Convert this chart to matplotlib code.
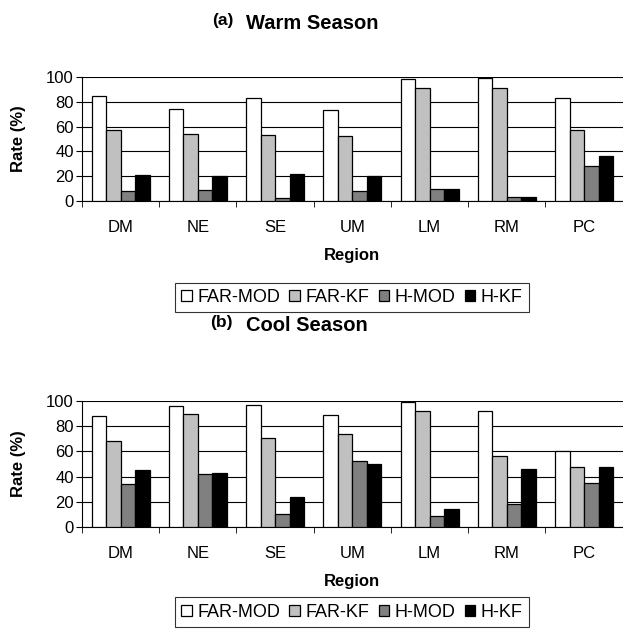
import numpy as np
import matplotlib
matplotlib.use("Agg")
import matplotlib.pyplot as plt

plt.rcParams['font.family'] = ['Liberation Sans', 'DejaVu Sans']

regions = ['DM', 'NE', 'SE', 'UM', 'LM', 'RM', 'PC']
series = ['FAR-MOD', 'FAR-KF', 'H-MOD', 'H-KF']
colors = ['white', '#c0c0c0', '#808080', 'black']

# warm season rates (%)
warm_far_mod = [85, 74, 83, 73, 98, 99, 83]
warm_far_kf = [57, 54, 53, 52, 91, 91, 57]
warm_h_mod = [8, 9, 2, 8, 10, 3, 28]
warm_h_kf = [21, 20, 22, 20, 10, 3, 36]

# cool season rates (%)
cool_far_mod = [88, 96, 97, 89, 99, 92, 60]
cool_far_kf = [68, 90, 71, 74, 92, 56, 48]
cool_h_mod = [34, 42, 10, 52, 9, 18, 35]
cool_h_kf = [45, 43, 24, 50, 14, 46, 48]

fig = plt.figure(figsize=(6.23, 6.33), dpi=100)
ax1 = fig.add_axes([0.1316, 0.6825, 0.868, 0.1959])
ax2 = fig.add_axes([0.1316, 0.1675, 0.868, 0.1990])


def draw_panel(ax, data):
    x = np.arange(len(regions))
    w = 0.1875
    offsets = (np.arange(4) - 1.5) * w
    for vals, off, c, name in zip(data, offsets, colors, series):
        ax.bar(x + off, vals, width=w, color=c, edgecolor='black',
               linewidth=0.9, label=name, zorder=3)
    ax.set_xlim(-0.5, len(regions) - 0.5)
    ax.set_ylim(0, 100)
    ax.set_yticks([0, 20, 40, 60, 80, 100])
    ax.yaxis.grid(True, color='black', linewidth=0.8, zorder=0)
    ax.set_axisbelow(True)
    ax.set_xticks(x)
    ax.set_xticklabels(regions, fontsize=12)
    ax.set_xticks(np.arange(len(regions) + 1) - 0.5, minor=True)
    ax.tick_params(axis='x', which='major', length=0, pad=14)
    ax.tick_params(axis='x', which='minor', length=4, direction='out')
    ax.tick_params(axis='y', labelsize=12, length=4, direction='out', pad=2)
    for s in ['top', 'right']:
        ax.spines[s].set_visible(False)
    ax.spines['left'].set_linewidth(0.8)
    ax.spines['bottom'].set_linewidth(0.8)
    ax.set_ylabel('Rate (%)', fontsize=12, fontweight='bold', labelpad=14)
    ax.set_xlabel('Region', fontsize=12, fontweight='bold', labelpad=9)


draw_panel(ax1, [warm_far_mod, warm_far_kf, warm_h_mod, warm_h_kf])
draw_panel(ax2, [cool_far_mod, cool_far_kf, cool_h_mod, cool_h_kf])

fig.text(0.374, 0.968, '(a)', fontsize=12.5, fontweight='bold', ha='right', va='center')
fig.text(0.395, 0.963, 'Warm Season', fontsize=14.5, fontweight='bold', ha='left', va='center')
fig.text(0.374, 0.491, '(b)', fontsize=12.5, fontweight='bold', ha='right', va='center')
fig.text(0.395, 0.486, 'Cool Season', fontsize=14.5, fontweight='bold', ha='left', va='center')

handles, labels = ax1.get_legend_handles_labels()
for yc in [0.530, 0.033]:
    leg = fig.legend(handles, labels, loc='center', bbox_to_anchor=(0.565, yc),
                     ncol=4, fontsize=13, frameon=True, fancybox=False,
                     handlelength=0.6, handleheight=0.6, handletextpad=0.3,
                     columnspacing=0.5, borderpad=0.35, borderaxespad=0)
    leg.get_frame().set_edgecolor('black')
    leg.get_frame().set_linewidth(0.8)

fig.savefig('out.png', dpi=100)
